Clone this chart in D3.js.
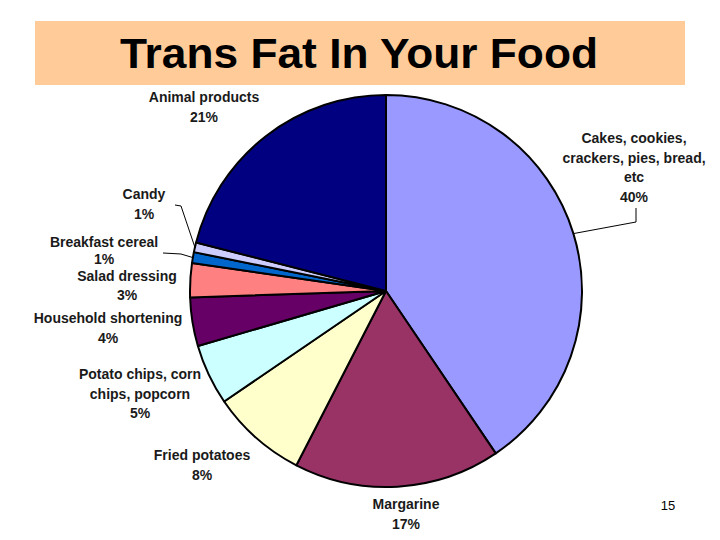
<!DOCTYPE html>
<html><head><meta charset="utf-8">
<script src="https://cdn.jsdelivr.net/npm/d3@7"></script>
<style>body{margin:0;background:#fff}svg{display:block}</style>
</head><body>
<script>
const categories = ["Cakes, cookies, crackers, pies, bread, etc","Margarine","Fried potatoes","Potato chips, corn chips, popcorn","Household shortening","Salad dressing","Breakfast cereal","Candy","Animal products"];
const values = [40.5,17,7.9,5,4,2.8,0.9,0.8,21];
const colors = ["#9999FF","#993366","#FFFFCC","#CCFFFF","#660066","#FF8080","#0066CC","#CCCCFF","#000080"];
const labelLines = [
  ["Cakes, cookies,","crackers, pies, bread,","etc","40%"],
  ["Margarine","17%"],
  ["Fried potatoes","8%"],
  ["Potato chips, corn","chips, popcorn","5%"],
  ["Household shortening","4%"],
  ["Salad dressing","3%"],
  ["Breakfast cereal","1%"],
  ["Candy","1%"],
  ["Animal products","21%"]
];
// label layout (centre x, first baseline y, line step)
const labelPos = [[634,143,19.7],[406,509,19.7],[202,460,19.7],[140,379,19.7],[108,323,19.7],[127,281,19.2],[104,247,17],[144,199,19.7],[204,102,19.7]];
// leader elbow points for labels with callout lines
const leaders = {0:[[636,208],[636,222]],6:[[163,253],[181,254]],7:[[175,205],[181,206]]};

const W=720,H=540;
const svg=d3.select("body").append("svg").attr("width",W).attr("height",H);

// title box
svg.append("rect").attr("x",35).attr("y",21).attr("width",650).attr("height",64).attr("fill","#FFCC99");
svg.append("text").attr("x",359).attr("y",68).attr("text-anchor","middle")
  .attr("font-family","Liberation Sans, Arial, sans-serif").attr("font-size",43).attr("font-weight","bold")
  .attr("textLength",478).attr("lengthAdjust","spacingAndGlyphs")
  .attr("fill","#000").text("Trans Fat In Your Food");

const cx=386,cy=291,R=196;
const pie=d3.pie().sort(null).value(d=>d)(values);
const arc=d3.arc().innerRadius(0).outerRadius(R);
const g=svg.append("g").attr("transform",`translate(${cx},${cy})`);
g.selectAll("path").data(pie).join("path").attr("d",arc)
  .attr("fill",(d,i)=>colors[i]).attr("stroke","#000").attr("stroke-width",2).attr("stroke-linejoin","round");

// leader lines
Object.entries(leaders).forEach(([k,pts])=>{
  const d=pie[+k]; const a=(d.startAngle+d.endAngle)/2;
  const end=[cx+R*Math.sin(a), cy-R*Math.cos(a)];
  svg.append("path").attr("d",d3.line()([...pts,end])).attr("fill","none").attr("stroke","#000").attr("stroke-width",1);
});

// labels
labelLines.forEach((lines,i)=>{
  const t=svg.append("text").attr("text-anchor","middle")
    .attr("font-family","Liberation Sans, Arial, sans-serif").attr("font-size",14)
    .attr("font-weight","bold").attr("fill","#1a1a1a");
  lines.forEach((s,j)=>{
    t.append("tspan").attr("x",labelPos[i][0]).attr("y",labelPos[i][1]+j*labelPos[i][2]).text(s);
  });
});

svg.append("text").attr("x",668).attr("y",510).attr("text-anchor","middle")
  .attr("font-family","Liberation Sans, Arial, sans-serif").attr("font-size",13).attr("fill","#000").text("15");
</script>
</body></html>
